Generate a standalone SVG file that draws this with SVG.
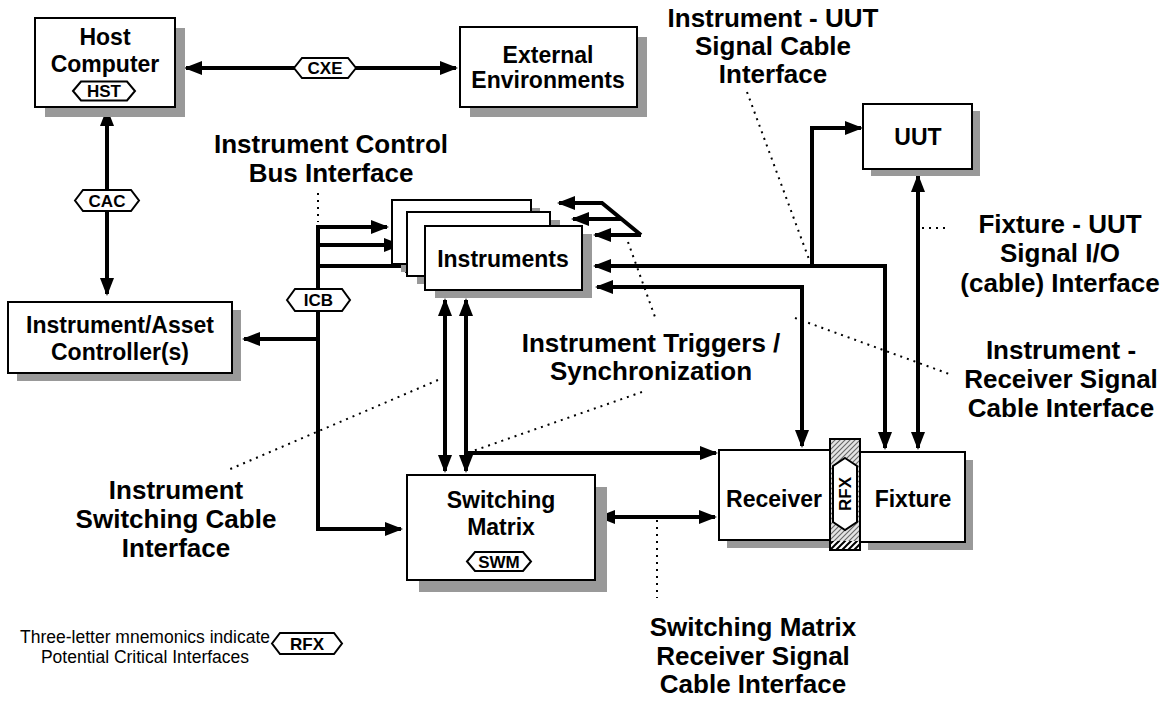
<svg xmlns="http://www.w3.org/2000/svg" width="1172" height="701" viewBox="0 0 1172 701">
<style>
.box{fill:#fff;stroke:#000;stroke-width:2}
.sh{fill:#999}
.t{font-family:"Liberation Sans",Arial,sans-serif;font-weight:bold;font-size:23px;text-anchor:middle;fill:#000}
.lb{font-family:"Liberation Sans",Arial,sans-serif;font-weight:bold;font-size:26px;text-anchor:middle;fill:#000}
.hx{fill:#fff;stroke:#000;stroke-width:2}
.ht{font-family:"Liberation Sans",Arial,sans-serif;font-weight:bold;font-size:17px;text-anchor:middle;fill:#000}
.lg{font-family:"Liberation Sans",Arial,sans-serif;font-size:17.5px;text-anchor:middle;fill:#000}
.c{fill:none;stroke:#000;stroke-width:4}
.a1{marker-end:url(#ah)}
.a2{marker-start:url(#ah);marker-end:url(#ah)}
.d{fill:none;stroke:#000;stroke-width:2;stroke-dasharray:2 5}
</style>
<defs>
<marker id="ah" markerUnits="userSpaceOnUse" markerWidth="20" markerHeight="16" refX="16" refY="7" orient="auto-start-reverse">
<path d="M0,0 L18,7 L0,14 z" fill="#000"/>
</marker>
<pattern id="hatch" patternUnits="userSpaceOnUse" width="5" height="5">
<rect width="5" height="5" fill="#e4e4e4"/>
<path d="M-1,1 L1,-1 M0,5 L5,0 M4,6 L6,4" stroke="#666" stroke-width="1.1"/>
</pattern>
<pattern id="hatch2" patternUnits="userSpaceOnUse" width="6" height="6">
<rect width="6" height="6" fill="#fff"/>
<path d="M-1,1 L1,-1 M0,6 L6,0 M5,7 L7,5" stroke="#000" stroke-width="2"/>
</pattern>
</defs>

<g id="connectors">
<path class="c a2" d="M186,68 L456,68"/>
<path class="c a2" d="M107,110 L107,294"/>
<path class="c a1" d="M318,225 L318,529 L401,529"/>
<path class="c a1" d="M318,227 L387,227"/>
<path class="c a1" d="M318,245 L400,245"/>
<path class="c a1" d="M318,266 L421,266"/>
<path class="c a1" d="M318,339 L244,339"/>
<path class="c a1" d="M641,235 L602,203 L559,203"/>
<path class="c a1" d="M641,235 L595,235"/>
<path class="c a1" d="M621,219 L573,219"/>
<path class="c a2" d="M885,448 L885,266 L595,266"/>
<path class="c a1" d="M812,266 L812,128 L861,128"/>
<path class="c a2" d="M802,446 L802,287 L597,287"/>
<path class="c a2" d="M918,176 L918,448"/>
<path class="c a2" d="M445,300 L445,471"/>
<path class="c a2" d="M466,300 L466,471"/>
<path class="c a1" d="M466,453 L716,453"/>
<path class="c a2" d="M599,517 L715,517"/>
<path class="d" d="M318,193 L318,222"/>
<path class="d" d="M747,92 L810,262"/>
<path class="d" d="M628,242 L655,317"/>
<path class="d" d="M642,392 L470,452"/>
<path class="d" d="M795,318 L952,375"/>
<path class="d" d="M922,228 L950,228"/>
<path class="d" d="M438,380 L228,470"/>
<path class="d" d="M657,520 L657,598"/>
</g>

<g id="host">
<rect class="sh" x="45" y="28" width="140" height="89"/>
<rect class="box" x="35" y="18" width="140" height="89"/>
<text class="t" x="105" y="45">Host</text>
<text class="t" x="105" y="72">Computer</text>
<polygon class="hx" points="73,91 81,81.5 127,81.5 135,91 127,100.5 81,100.5"/>
<text class="ht" x="104" y="97">HST</text>
</g>

<g id="cxe">
<polygon class="hx" points="294,68 302,58 348,58 356,68 348,78 302,78"/>
<text class="ht" x="325" y="74">CXE</text>
</g>

<g id="external">
<rect class="sh" x="470" y="37" width="177" height="80"/>
<rect class="box" x="460" y="27" width="177" height="80"/>
<text class="t" x="548" y="63">External</text>
<text class="t" x="548" y="88">Environments</text>
</g>

<g id="cac">
<polygon class="hx" points="75,200.5 83,190 131,190 139,200.5 131,211 83,211"/>
<text class="ht" x="107" y="206.5">CAC</text>
</g>

<g id="controller">
<rect class="sh" x="17" y="310" width="224" height="71"/>
<rect class="box" x="8" y="302" width="224" height="71"/>
<text class="t" x="120" y="333">Instrument/Asset</text>
<text class="t" x="120" y="360">Controller(s)</text>
</g>

<g id="icb">
<polygon class="hx" points="287,300 295,289 342,289 350,300 342,311 295,311"/>
<text class="ht" x="318.5" y="306">ICB</text>
</g>

<g id="instruments">
<rect class="sh" x="401" y="208" width="139" height="64"/>
<rect class="box" x="392" y="200" width="139" height="64"/>
<rect class="sh" x="417" y="220" width="143" height="64"/>
<rect class="box" x="407" y="212" width="143" height="64"/>
<rect class="sh" x="435" y="234" width="157" height="64"/>
<rect class="box" x="425" y="226" width="157" height="64"/>
<text class="t" x="503" y="267">Instruments</text>
</g>

<g id="uut">
<rect class="sh" x="871" y="111" width="109" height="65"/>
<rect class="box" x="863" y="104" width="109" height="65"/>
<text class="t" x="918" y="145">UUT</text>
</g>

<g id="switching-matrix">
<rect class="sh" x="419" y="487" width="188" height="105"/>
<rect class="box" x="407" y="475" width="188" height="105"/>
<text class="t" x="501" y="508">Switching</text>
<text class="t" x="501" y="535">Matrix</text>
<polygon class="hx" points="467,561.5 475,552 523,552 531,561.5 523,571 475,571"/>
<text class="ht" x="499" y="567.5">SWM</text>
</g>

<g id="receiver">
<rect class="sh" x="727" y="458" width="111" height="90"/>
<rect class="box" x="719" y="450" width="111" height="90"/>
<text class="t" x="774" y="507">Receiver</text>
</g>

<g id="fixture">
<rect class="sh" x="868" y="460" width="105" height="90"/>
<rect class="box" x="860" y="452" width="105" height="90"/>
<text class="t" x="913" y="507">Fixture</text>
</g>

<g id="rfx">
<rect x="830" y="439" width="30" height="111" fill="url(#hatch)" stroke="#000" stroke-width="2"/>
<rect x="831" y="541" width="28" height="8" fill="url(#hatch2)"/>
<polygon class="hx" points="845,458 857,466 857,522 845,530 833,522 833,466"/>
<text class="ht" transform="translate(851,494) rotate(-90)">RFX</text>
</g>

<g id="labels">
<text class="lb" x="331" y="153">Instrument Control</text>
<text class="lb" x="331" y="182">Bus Interface</text>
<text class="lb" x="773" y="27">Instrument - UUT</text>
<text class="lb" x="773" y="55">Signal Cable</text>
<text class="lb" x="773" y="83">Interface</text>
<text class="lb" x="1060" y="233">Fixture - UUT</text>
<text class="lb" x="1060" y="262">Signal I/O</text>
<text class="lb" x="1060" y="292">(cable) Interface</text>
<text class="lb" x="1061" y="359">Instrument -</text>
<text class="lb" x="1061" y="388">Receiver Signal</text>
<text class="lb" x="1061" y="417">Cable Interface</text>
<text class="lb" x="651" y="352">Instrument Triggers /</text>
<text class="lb" x="651" y="380">Synchronization</text>
<text class="lb" x="176" y="499">Instrument</text>
<text class="lb" x="176" y="528">Switching Cable</text>
<text class="lb" x="176" y="557">Interface</text>
<text class="lb" x="753" y="636">Switching Matrix</text>
<text class="lb" x="753" y="665">Receiver Signal</text>
<text class="lb" x="753" y="693">Cable Interface</text>
</g>

<g id="legend">
<text class="lg" x="145" y="643">Three-letter mnemonics indicate</text>
<text class="lg" x="145" y="663">Potential Critical Interfaces</text>
<polygon class="hx" points="272,643.5 280,633 334,633 342,643.5 334,654 280,654"/>
<text class="ht" x="307" y="649.5">RFX</text>
</g>
</svg>
